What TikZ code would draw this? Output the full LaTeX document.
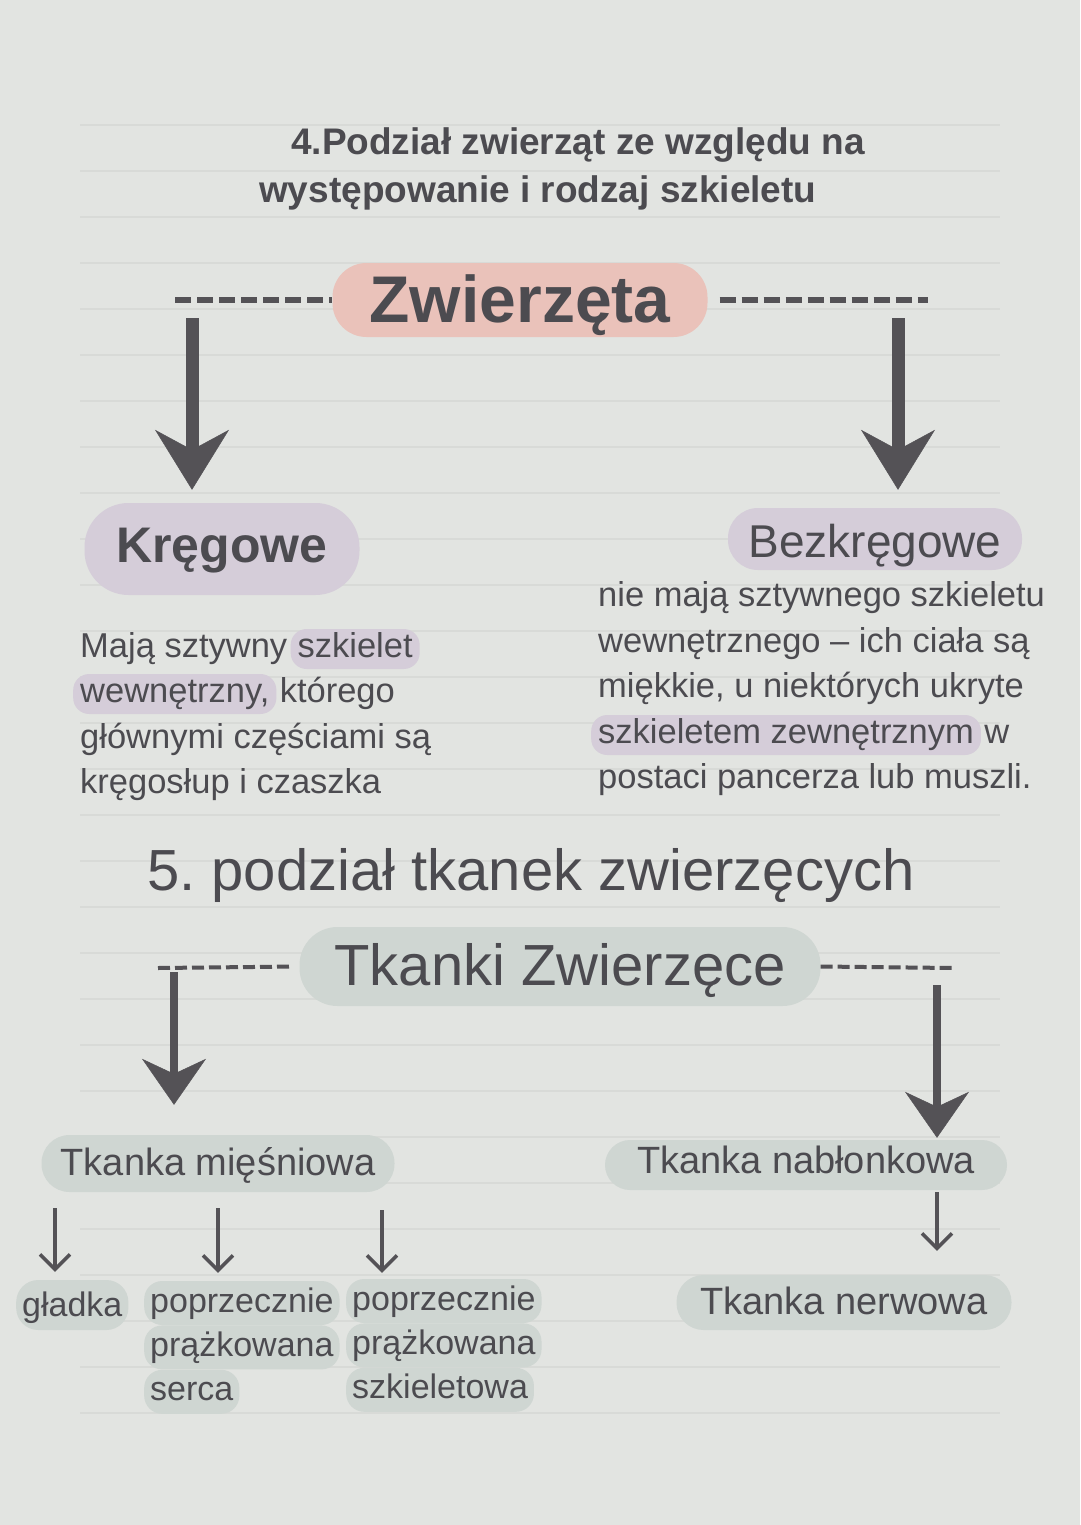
\documentclass[tikz,border=0pt]{standalone}
\usepackage{fontspec}
\setmainfont{Liberation Sans}
\usetikzlibrary{arrows.meta,positioning}
\definecolor{paper}{HTML}{E2E4E1}
\definecolor{rulecol}{HTML}{D8DAD7}
\definecolor{ink}{HTML}{4C4B50}
\definecolor{arr}{HTML}{545256}
\definecolor{pinkhl}{HTML}{EAC2BA}
\definecolor{lav}{HTML}{D5CDD9}
\definecolor{sage}{HTML}{CFD6D2}
\newcommand{\fsz}[1]{\fontsize{#1pt}{#1pt}\selectfont}
\frenchspacing

\begin{document}
\begin{tikzpicture}[x=1pt,y=-1pt]
\tikzstyle{txt}=[inner sep=0pt, text=ink, anchor=base west, font=\fsz{34.5}]
\tikzstyle{titletxt}=[txt, font=\bfseries\fsz{37}]
\tikzstyle{pill}=[rounded corners=25pt, text=ink, inner sep=0pt, anchor=base]
\tikzstyle{hl}=[fill=lav, rounded corners=16pt, text=ink, inner xsep=7pt, inner ysep=0pt,
	text height=28pt, text depth=12pt, font=\fsz{34.5}, anchor=base west]
\tikzstyle{item}=[fill=sage, rounded corners=18pt, text=ink, inner xsep=6pt, inner ysep=0pt,
	text height=31pt, text depth=13pt, font=\fsz{34}, anchor=base west]
\tikzstyle{dashone}=[draw=arr, line width=6pt, dash pattern=on 16pt off 6pt]
\tikzstyle{dashtwo}=[draw=arr, line width=4pt, dash pattern=on 12pt off 5pt]
\tikzstyle{bigarrow}=[draw=arr, line width=13pt,
	-{Stealth[length=60pt,width=74pt,inset=20pt,line width=0.5pt]}]
\tikzstyle{midarrow}=[draw=arr, line width=8pt,
	-{Stealth[length=46pt,width=64pt,inset=15pt,line width=0.5pt]}]
\tikzstyle{smallarrow}=[draw=arr, line width=3.5pt,
	-{Straight Barb[length=15pt,width=30pt,line width=3.5pt]}]

\fill[paper] (0,0) rectangle (1080,1525);
\foreach \k in {0,...,28}
	\draw[rulecol, line width=1.5pt] (80,{125+46*\k}) -- (1000,{125+46*\k});

\node[titletxt] (t1) at (291,155) {4.Podział zwierząt ze względu na};
\node[titletxt] (t2) at (259,203) {występowanie i rodzaj szkieletu};

\node[pill, fill=pinkhl, font=\bfseries\fsz{66}, minimum width=375pt, rounded corners=34pt,
	text height=59pt, text depth=15pt] (zw) at (520,322) {Zwierzęta};
\node[pill, fill=lav, font=\bfseries\fsz{50}, minimum width=275pt, rounded corners=44pt,
	text height=59pt, text depth=33pt] (kr) at (222,562) {Kręgowe};
\node[pill, fill=lav, font=\fsz{46}, minimum width=294pt, rounded corners=30pt,
	text height=49pt, text depth=13pt] (bk) at (875,557) {Bezkręgowe};

\node[txt] (k1) at (80,657) {Mają sztywny};
\node[hl, base right=3pt of k1] (k1h) {szkielet};
\node[hl] (k2h) at (73,702) {wewnętrzny,};
\node[txt, base right=3pt of k2h] (k2) {którego};
\node[txt] (k3) at (80,748) {głównymi częściami są};
\node[txt] (k4) at (80,793) {kręgosłup i czaszka};

\node[txt] (b1) at (598,606) {nie mają sztywnego szkieletu};
\node[txt] (b2) at (598,652) {wewnętrznego – ich ciała są};
\node[txt] (b3) at (598,697) {miękkie, u niektórych ukryte};
\node[hl] (b4h) at (591,743) {szkieletem zewnętrznym};
\node[txt, base right=3pt of b4h] (b4) {w};
\node[txt] (b5) at (598,788) {postaci pancerza lub muszli.};

\node[txt, font=\fsz{58}] (t3) at (147,890) {5. podział tkanek zwierzęcych};
\node[pill, fill=sage, font=\fsz{58}, minimum width=521pt, rounded corners=38pt,
	text height=58pt, text depth=21pt] (tz) at (560,985) {Tkanki Zwierzęce};

\node[pill, fill=sage, font=\fsz{38}, minimum width=353pt, rounded corners=28pt,
	text height=40pt, text depth=17pt] (tm) at (218,1175) {Tkanka mięśniowa};
\node[pill, fill=sage, font=\fsz{38}, minimum width=402pt,
	text height=33pt, text depth=17pt] (tb) at (806,1173) {Tkanka nabłonkowa};
\node[pill, fill=sage, font=\fsz{38}, minimum width=335pt, rounded corners=27pt,
	text height=39pt, text depth=16pt] (tn) at (844,1314) {Tkanka nerwowa};

\node[item, text height=36pt, text depth=14pt, rounded corners=22pt] (gl) at (16,1316) {gładka};
\node[item] (ps1) at (144,1312) {poprzecznie};
\node[item, below=0pt of ps1.south west, anchor=north west] (ps2) {prążkowana};
\node[item, below=0pt of ps2.south west, anchor=north west] (ps3) {serca};
\node[item] (pk1) at (346,1310) {poprzecznie};
\node[item, below=0pt of pk1.south west, anchor=north west] (pk2) {prążkowana};
\node[item, below=0pt of pk2.south west, anchor=north west] (pk3) {szkieletowa};

\coordinate (zl) at (175,300);
\coordinate (zr) at (928,300);
\coordinate (al) at (192,318);
\coordinate (ar) at (898,318);
\draw[dashone] (zl) -- (zw.west);
\draw[dashone, shorten <=12pt] (zw.east) -- (zr);
\draw[bigarrow] (al) -- ([yshift=13pt]al |- kr.north);
\draw[bigarrow] (ar) -- ([yshift=18pt]ar |- bk.north);

\coordinate (tl) at (158,968);
\coordinate (tr) at (953,968);
\coordinate (bl) at (174,972);
\coordinate (br) at (937,985);
\draw[dashtwo, shorten >=6pt] (tl) -- (tz.west);
\draw[dashtwo] (tz.east) -- (tr);
\draw[midarrow] (bl) -- ([yshift=30pt]bl |- tm.north);
\draw[midarrow] (br) -- ([yshift=2pt]br |- tb.north);

\coordinate (s1) at (55,1208);
\coordinate (s2) at (218,1208);
\coordinate (s3) at (382,1210);
\coordinate (s4) at (937,1192);
\draw[smallarrow] (s1) -- ([yshift=8pt]s1 |- gl.north);
\draw[smallarrow] (s2) -- ([yshift=8pt]s2 |- ps1.north);
\draw[smallarrow] (s3) -- ([yshift=6pt]s3 |- pk1.north);
\draw[smallarrow] (s4) -- ([yshift=24pt]s4 |- tn.north);
\end{tikzpicture}
\end{document}
